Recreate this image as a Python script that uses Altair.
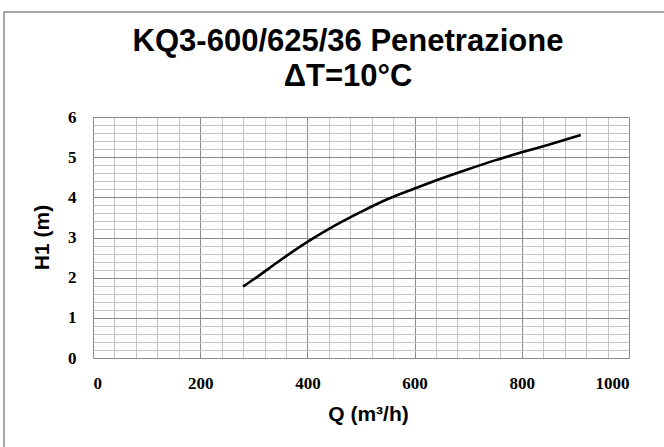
import altair as alt
import pandas as pd

q_values = [280, 300, 350, 400, 450, 500, 550, 600, 650, 700, 750, 800, 850, 910]
h_values = [1.78, 1.96, 2.44, 2.89, 3.29, 3.64, 3.96, 4.22, 4.47, 4.70, 4.92, 5.12, 5.31, 5.55]

x_major = [0, 200, 400, 600, 800, 1000]
x_minor = list(range(0, 1001, 40))
y_major = [0, 1, 2, 3, 4, 5, 6]
y_minor = [round(i * 0.2, 1) for i in range(31)]

title_lines = ["KQ3-600/625/36 Penetrazione", "ΔT=10°C"]
x_title = "Q (m³/h)"
y_title = "H1 (m)"

df = pd.DataFrame({"Q": q_values, "H": h_values})

xs = alt.Scale(domain=[0, 1000], nice=False, zero=True)
ys = alt.Scale(domain=[0, 6], nice=False, zero=True)

base = alt.Chart(df)

minor = base.mark_line(opacity=0).encode(
    x=alt.X("Q:Q", scale=xs, axis=alt.Axis(values=x_minor, grid=True, gridColor="#c4c4c4",
                                           gridWidth=1, labels=False, ticks=False, domain=False,
                                           title=None, orient="bottom")),
    y=alt.Y("H:Q", scale=ys, axis=alt.Axis(values=y_minor, grid=True, gridColor="#c4c4c4",
                                           gridWidth=1, labels=False, ticks=False, domain=False,
                                           title=None, orient="left")),
)

major = base.mark_line(opacity=0).encode(
    x=alt.X("Q:Q", scale=xs, axis=alt.Axis(values=x_major, grid=True, gridColor="#8a8a8a",
                                           gridWidth=1, labels=False, ticks=False, domain=False,
                                           title=None, orient="bottom")),
    y=alt.Y("H:Q", scale=ys, axis=alt.Axis(values=y_major, grid=True, gridColor="#8a8a8a",
                                           gridWidth=1, labels=False, ticks=False, domain=False,
                                           title=None, orient="left")),
)

line = base.mark_line(color="black", strokeWidth=2.6, interpolate="monotone").encode(
    x=alt.X("Q:Q", scale=xs, axis=alt.Axis(values=x_major, format="d", grid=False, ticks=False,
                                           domain=False,
                                           labelFont="Liberation Serif", labelFontWeight="bold",
                                           labelFontSize=17, labelColor="black", labelPadding=17,
                                           title=x_title, titleFont="Liberation Sans",
                                           titleFontWeight="bold", titleFontSize=21,
                                           titleColor="black", titleX=275, titleY=56,
                                           titleBaseline="middle", orient="bottom")),
    y=alt.Y("H:Q", scale=ys, axis=alt.Axis(values=y_major, format="d", grid=False, ticks=False,
                                           domain=False,
                                           labelFont="Liberation Serif", labelFontWeight="bold",
                                           labelFontSize=17, labelColor="black", labelPadding=17,
                                           title=y_title, titleFont="Liberation Sans",
                                           titleFontWeight="bold", titleFontSize=21,
                                           titleColor="black", titleX=-51, titleY=120,
                                           titleAngle=-90, titleBaseline="middle", orient="left")),
)

frame = alt.Chart(pd.DataFrame({"k": [0]})).mark_rect(
    fill=None, stroke="#8c8c8c", strokeWidth=1.5, clip=False
).encode(
    x=alt.value(-89), x2=alt.value(580), y=alt.value(-105), y2=alt.value(340)
)

chart = alt.layer(minor, major, line, frame).resolve_axis(x="independent", y="independent").properties(
    width=536,
    height=241,
    padding={"left": 93, "top": 117, "right": 35, "bottom": 89},
    autosize=alt.AutoSizeParams(type="none"),
    title=alt.TitleParams(text=title_lines, font="Liberation Sans", fontWeight="bold",
                          fontSize=31, lineHeight=35, color="black", anchor="middle",
                          dx=-13, dy=82, offset=0),
).configure_view(stroke="#8a8a8a", strokeWidth=1).configure(background="white")

chart.save("out.html", embed_options={"renderer": "svg", "actions": False})
